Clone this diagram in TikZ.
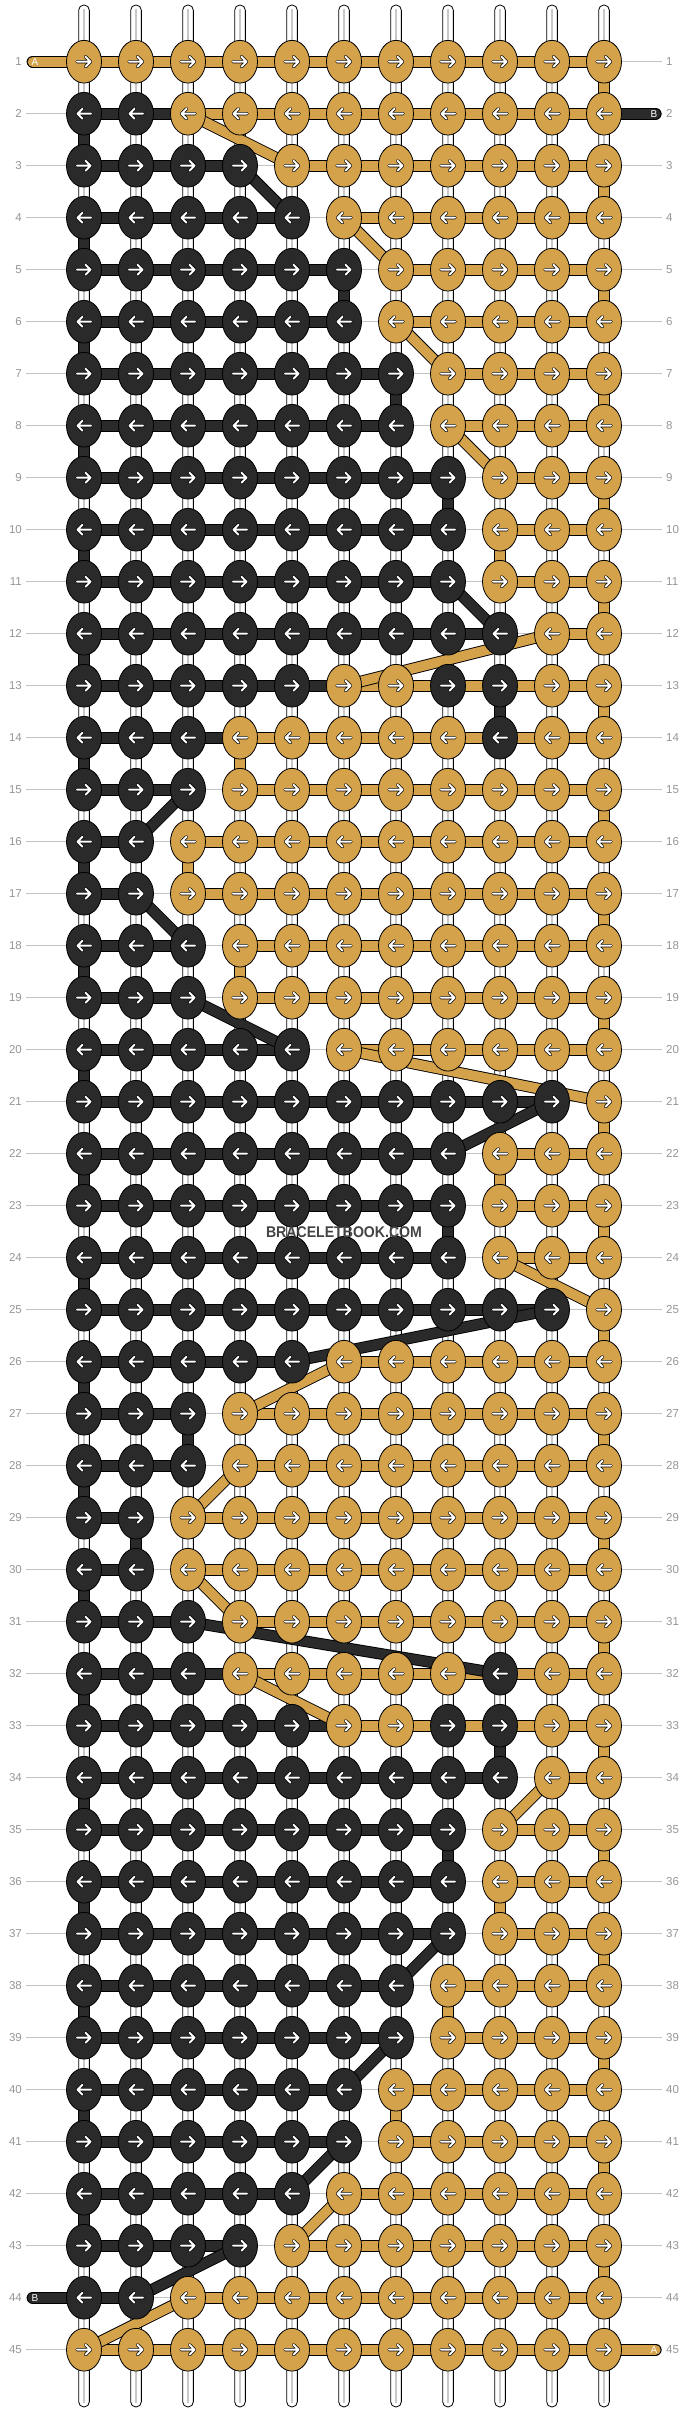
\documentclass[tikz,border=0pt]{standalone}
\usepackage{fontspec}
\setmainfont{Liberation Sans}
\usetikzlibrary{shapes.geometric}
\definecolor{gold}{RGB}{212,162,74}
\definecolor{blk}{RGB}{42,42,42}
\definecolor{lblgray}{RGB}{150,150,150}
\definecolor{guidegray}{RGB}{195,195,195}
\definecolor{strgray}{RGB}{200,200,200}
\definecolor{wmgray}{RGB}{68,68,68}
\newcommand\rowlist{1/0/0,2/2/11,3/4/4,4/5/5,5/6/6,6/6/6,7/7/7,8/7/7,9/8/8,10/8/8,11/8/8,12/9/9,13/5/9,14/3/9,15/3/3,16/2/2,17/2/2,18/3/3,19/3/3,20/5/5,21/10/10,22/8/8,23/8/8,24/8/8,25/10/10,26/5/5,27/3/3,28/3/3,29/2/2,30/2/2,31/3/3,32/3/9,33/5/9,34/9/9,35/8/8,36/8/8,37/8/8,38/7/7,39/7/7,40/6/6,41/6/6,42/5/5,43/4/4,44/2/2,45/0/0}
\newcommand\blacktrans{2/1/1,3/4/5,4/1/1,5/6/6,6/1/1,7/7/7,8/1/1,9/8/8,10/1/1,11/8/9,12/1/1,13/9/9,14/1/1,15/3/2,16/1/1,17/2/3,18/1/1,19/3/5,20/1/1,21/10/8,22/1/1,23/8/8,24/1/1,25/10/5,26/1/1,27/3/3,28/1/1,29/2/2,30/1/1,31/3/9,32/1/1,33/9/9,34/1/1,35/8/8,36/1/1,37/8/7,38/1/1,39/7/6,40/1/1,41/6/5,42/1/1,43/4/2}
\newcommand\goldtrans{1/11/11,2/3/5,3/11/11,4/6/7,5/11/11,6/7/8,7/11/11,8/8/9,9/11/11,10/9/9,11/11/11,12/10/6,13/11/11,14/4/4,15/11/11,16/3/3,17/11/11,18/4/4,19/11/11,20/6/11,21/11/11,22/9/9,23/11/11,24/9/11,25/11/11,26/6/4,27/11/11,28/4/3,29/11/11,30/3/4,31/11/11,32/4/6,33/11/11,34/10/9,35/11/11,36/9/9,37/11/11,38/8/8,39/11/11,40/7/7,41/11/11,42/6/5,43/11/11,44/3/1}
\expandafter\def\csname xk13-8\endcsname{}
\expandafter\def\csname xk13-9\endcsname{}
\expandafter\def\csname xk14-9\endcsname{}
\expandafter\def\csname xk32-9\endcsname{}
\expandafter\def\csname xk33-8\endcsname{}
\expandafter\def\csname xk33-9\endcsname{}
\newcommand\hconn[3]{%
  \draw[line width=12.3pt, black] (#2) -- (#3);
  \draw[line width=10.3pt, #1] (#2) -- (#3);}
\newcommand\tconn[3]{%
  \draw[line width=11.6pt, black] (#2) -- (#3);
  \draw[line width=9.8pt, #1] (#2) -- (#3);}
\newcommand\tabconn[3]{%
  \draw[line width=12.3pt, black, line cap=round] (#2) -- (#3);
  \draw[line width=10.3pt, #1, line cap=round] (#2) -- (#3);}
\begin{document}
\begin{tikzpicture}[x=1pt,y=-1pt,
  knot/.style={ellipse, draw=black, line width=0.8pt, minimum width=35pt, minimum height=42.7pt, inner sep=0pt},
  arrowout/.style={black, line width=3.4pt, line cap=round, line join=round},
  arrowin/.style={white, line width=2pt, line cap=round, line join=round},
  rowlbl/.style={lblgray, font=\fontsize{11.5}{12}\selectfont, inner sep=0pt},
  tablbl/.style={white, font=\fontsize{10}{10}\selectfont, inner sep=0pt}]
\useasboundingbox (0,0) rectangle (688,2412);
\fill[white] (0,0) rectangle (688,2412);
% grid coordinates
\foreach \r in {1,...,45} {
  \foreach \c in {1,...,11} {
    \coordinate (p\r-\c) at ({32+52*\c},{9.7+52*\r});
  }
}
% guide lines and row labels
\foreach \r in {1,...,45} {
  \coordinate (gl\r) at (26,{9.7+52*\r});
  \coordinate (gr\r) at (662,{9.7+52*\r});
  \draw[guidegray, line width=0.8pt] (gl\r) -- (gr\r);
  \node[rowlbl, anchor=east] (ll\r) at (22,{9.7+52*\r}) {\r};
  \node[rowlbl, anchor=west] (lr\r) at (666,{9.7+52*\r}) {\r};
}
% vertical strings
\foreach \c in {1,...,11} {
  \draw[fill=white, draw=black, line width=0.8pt, rounded corners=5.2pt] ({32+52*\c-5.35},5) rectangle ({32+52*\c+5.35},2407);
  \draw[strgray, line width=1.6pt] ({32+52*\c},9) -- ({32+52*\c},2403);
}
% horizontal bars
\foreach \r/\k/\e in \rowlist {
  \ifnum\e>1 \hconn{blk}{p\r-1}{p\r-\e}\fi
  \pgfmathtruncatemacro\gs{\k+1}
  \ifnum\gs<11 \hconn{gold}{p\r-\gs}{p\r-11}\fi
}
% tabs
\coordinate (tabA1) at (32.8,61.7);
\coordinate (tabB2) at (655.5,113.7);
\coordinate (tabB44) at (32.8,2297.7);
\coordinate (tabA45) at (655.5,2349.7);
\tabconn{gold}{tabA1}{p1-1}
\tabconn{blk}{p2-11}{tabB2}
\tabconn{blk}{tabB44}{p44-1}
\tabconn{gold}{p45-11}{tabA45}
\node[tablbl] (tA1) at (35,61.7) {A};
\node[tablbl] (tB2) at (654,113.7) {B};
\node[tablbl] (tB44) at (35,2297.7) {B};
\node[tablbl] (tA45) at (654,2349.7) {A};
% transitions between rows
\foreach \r/\a/\b in \blacktrans {
  \pgfmathtruncatemacro\rn{\r+1}
  \tconn{blk}{p\r-\a}{p\rn-\b}
}
\foreach \r/\a/\b in \goldtrans {
  \pgfmathtruncatemacro\rn{\r+1}
  \tconn{gold}{p\r-\a}{p\rn-\b}
}
% knots
\foreach \r/\k/\e in \rowlist {
  \foreach \c in {1,...,11} {
    \def\kc{gold}%
    \ifnum\c>\k\relax\else\def\kc{blk}\fi
    \ifcsname xk\r-\c\endcsname\def\kc{blk}\fi
    \node[knot, fill=\kc] (k\r-\c) at (p\r-\c) {};
    \ifodd\r
      \draw[arrowout, shift={(p\r-\c)}] (-7,0) -- (6.5,0) (1.5,-5) -- (6.5,0) -- (1.5,5);
      \draw[arrowin, shift={(p\r-\c)}] (-7,0) -- (6.5,0) (1.5,-5) -- (6.5,0) -- (1.5,5);
    \else
      \draw[arrowout, shift={(p\r-\c)}] (7,0) -- (-6.5,0) (-1.5,-5) -- (-6.5,0) -- (-1.5,5);
      \draw[arrowin, shift={(p\r-\c)}] (7,0) -- (-6.5,0) (-1.5,-5) -- (-6.5,0) -- (-1.5,5);
    \fi
  }
}
% watermark
\node[wmgray, font=\bfseries\fontsize{15.5}{16}\selectfont, inner sep=0pt] (wm) at (344,1232) {\scalebox{0.91}[1]{BRACELETBOOK.COM}};
\end{tikzpicture}
\end{document}
